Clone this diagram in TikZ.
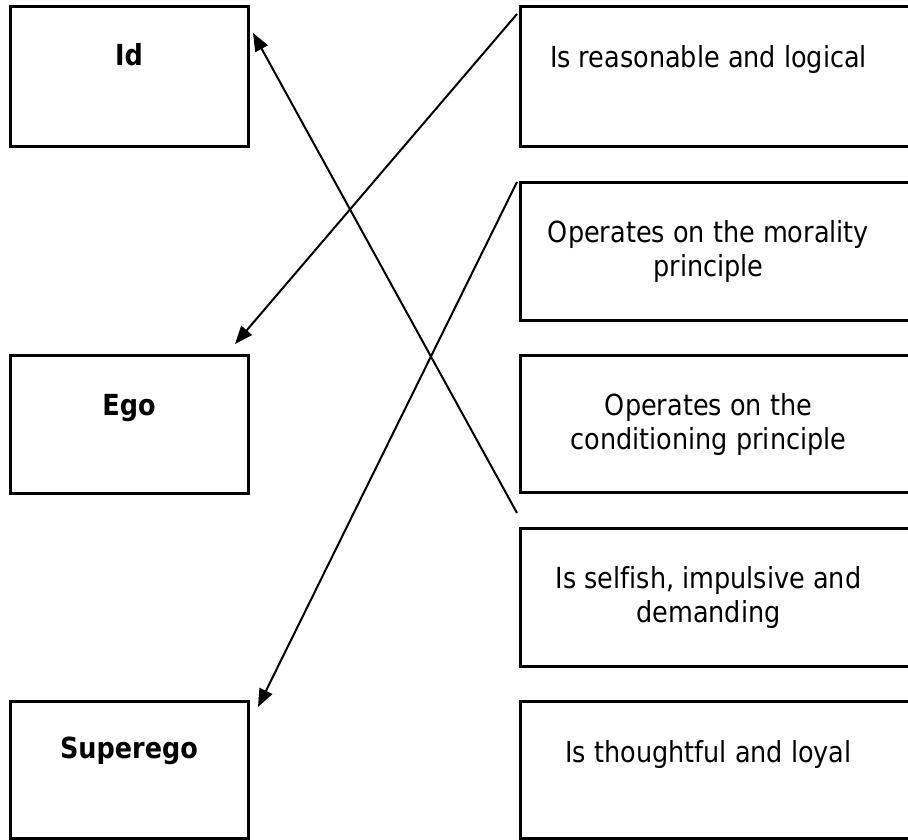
\documentclass[tikz,border=0pt]{standalone}
\usepackage{fontspec}
\setmainfont{DejaVu Sans}[FakeStretch=0.88,Ligatures=NoCommon]
\usetikzlibrary{arrows.meta,calc}
\begin{document}
\begin{tikzpicture}[x=1pt,y=-1pt,
  box/.style={draw,line width=3pt,rectangle,inner sep=0pt},
  lefttext/.style={anchor=base,inner sep=0pt,font=\fontsize{29}{34.5}\selectfont\bfseries},
  righttext/.style={anchor=base,inner sep=0pt,align=center,font=\fontsize{29}{34.5}\selectfont},
  conn/.style={line width=2pt,-{Triangle[length=18pt,width=14pt]}}]
\useasboundingbox (0,0) rectangle (908,839);
% left boxes
\node[box,minimum width=238pt,minimum height=140pt] (id) at (129,76) {};
\node[box,minimum width=238pt,minimum height=138pt] (ego) at (129,424) {};
\node[box,minimum width=238pt,minimum height=137pt] (sup) at (129,769.5) {};
% right boxes (right edge cut off by the page)
\node[box,minimum width=400pt,minimum height=140pt] (r1) at (720,76) {};
\node[box,minimum width=400pt,minimum height=138pt] (r2) at (720,251) {};
\node[box,minimum width=400pt,minimum height=137pt] (r3) at (720,423.5) {};
\node[box,minimum width=400pt,minimum height=138pt] (r4) at (720,597) {};
\node[box,minimum width=400pt,minimum height=137pt] (r5) at (720,769.5) {};
% texts (base anchor = baseline of the last line)
\node[lefttext] (tid) at ($(id.north)+(0,61)$) {Id};
\node[lefttext] (tego) at ($(ego.north)+(0,62)$) {Ego};
\node[lefttext] (tsup) at ($(sup.north)+(0,59)$) {Superego};
\node[righttext] (t1) at (708.5,67) {Is reasonable and logical};
\node[righttext] (t2) at (708.5,276.5) {Operates on the morality\\principle};
\node[righttext] (t3) at (708.5,449.5) {Operates on the\\conditioning principle};
\node[righttext] (t4) at (708.5,622.5) {Is selfish, impulsive and\\demanding};
\node[righttext] (t5) at (708.5,762) {Is thoughtful and loyal};
% connector ends
\coordinate (s1) at (517,14);
\coordinate (s2) at (517,182);
\coordinate (s3) at (517,513);
\coordinate (e1) at (235,344);
\coordinate (e2) at (258,707);
\coordinate (e3) at (253,33);
\draw[conn] (s1) -- (e1);
\draw[conn] (s2) -- (e2);
\draw[conn] (s3) -- (e3);
\end{tikzpicture}
\end{document}
